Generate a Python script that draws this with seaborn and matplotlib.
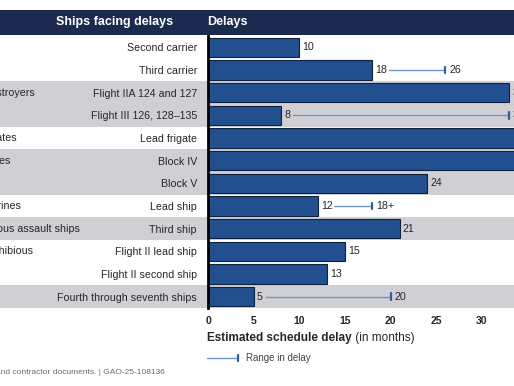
"""
Navy shipbuilding schedule delays - horizontal bar chart with range lines.
"""

import matplotlib
matplotlib.use("Agg")
import matplotlib.pyplot as plt
import matplotlib.transforms as mtransforms
from matplotlib.patches import Rectangle
from matplotlib.lines import Line2D
import pandas as pd
import seaborn as sns

# -- Data -------------------------------------------------------------------
ships = [
    "Second carrier", "Third carrier", "Flight IIA 124 and 127",
    "Flight III 126, 128\u2013135", "Lead frigate", "Block IV", "Block V",
    "Lead ship", "Third ship", "Flight II lead ship", "Flight II second ship",
    "Fourth through seventh ships",
]
delays = [10, 18, 33, 8, 36, 36, 24, 12, 21, 15, 13, 5]
range_high = [None, 26, None, 33, None, None, None, 18, None, None, None, 20]
range_labels = [None, "26", None, "33", None, None, None, "18+", None, None, None, "20"]
shaded = [False, False, True, True, False, True, True, False, True, False, False, True]

group_rows = [2, 4, 5, 7, 8, 9]
group_names = [
    "Arleigh Burke class destroyers", "Constellation class frigates",
    "Virginia class submarines", "Columbia class submarines",
    "America class amphibious assault ships", "San Antonio class amphibious",
]
x_ticks = [0, 5, 10, 15, 20, 25, 30]

# -- Style ------------------------------------------------------------------
COLORS = {
    "bar": "#22508f",
    "edge": "#0f2140",
    "header": "#1c2a4f",
    "band": "#d0cfd3",
    "range": "#6f97cb",
    "cap": "#2f5f9e",
    "text": "#262626",
    "note": "#6a6a6a",
}
W, H = 514, 386
GROUP_LABEL_END = [35, 17, 10, 21, 80, 33]   # pixel where visible group text ends

sns.set_theme(style="white")
plt.rcParams["font.family"] = ["Liberation Sans", "DejaVu Sans"]

fig = plt.figure(figsize=(W / 100, H / 100), dpi=100)
fig.patch.set_facecolor("white")

ax = fig.add_axes([208 / W, 78 / H, (W - 208) / W, 272 / H])
ax.patch.set_visible(False)

df = pd.DataFrame({"ship": ships, "delay": delays})
sns.barplot(data=df, x="delay", y="ship", orient="h", color=COLORS["bar"],
            edgecolor=COLORS["edge"], linewidth=0.8, width=0.84,
            saturation=1, ax=ax, zorder=2)

ax.set_xlim(0, (W - 208) / 9.133)
ax.set_ylim(len(ships) - 0.5, -0.5)

# shaded row bands across the whole figure width
band_trans = mtransforms.blended_transform_factory(fig.transFigure, ax.transData)
for i, s in enumerate(shaded):
    if s:
        ax.add_patch(Rectangle((0, i - 0.5), 1, 1, transform=band_trans,
                               facecolor=COLORS["band"], edgecolor="none",
                               zorder=0, clip_on=False))

# value labels and range lines
for i, (v, hi, lab) in enumerate(zip(delays, range_high, range_labels)):
    ax.text(v + 0.35, i, str(v), va="center", ha="left", fontsize=7.7,
            color=COLORS["text"], clip_on=True, zorder=3)
    if hi is not None:
        start = v + 0.9 + 0.45 * len(str(v))
        ax.plot([start, hi], [i, i], color=COLORS["range"], lw=1, zorder=3)
        ax.plot([hi, hi], [i - 0.14, i + 0.14], color=COLORS["cap"], lw=1.6,
                zorder=3, clip_on=False)
        ax.text(hi + 0.4, i, lab, va="center", ha="left", fontsize=7.7,
                color=COLORS["text"], clip_on=True, zorder=3)

# group names (cut off at the left edge as in the source)
for row, name, end in zip(group_rows, group_names, GROUP_LABEL_END):
    fig.text(end / W, row, name, transform=band_trans, fontsize=7.7,
             color=COLORS["text"], ha="right", va="center")

# axes styling
for side in ["top", "right", "bottom"]:
    ax.spines[side].set_visible(False)
ax.spines["left"].set_color("black")
ax.spines["left"].set_linewidth(2)
ax.spines["left"].set_zorder(4)
ax.set_xticks(x_ticks)
ax.set_xticklabels([str(t) for t in x_ticks], fontweight="bold", fontsize=7.5,
                   color=COLORS["text"])
ax.tick_params(axis="x", length=0, pad=6)
ax.tick_params(axis="y", length=0, pad=8, labelsize=7.7, labelcolor=COLORS["text"])
ax.set_xlabel("")
ax.set_ylabel("")
ax.grid(False)

# header band
fig.add_artist(Rectangle((0, (H - 35) / H), 1, 25 / H, transform=fig.transFigure,
                         facecolor=COLORS["header"], edgecolor="none"))
fig.text(115 / W, (H - 22.5) / H, "Ships facing delays", color="white",
         fontweight="bold", fontsize=9, ha="center", va="center")
fig.text(207 / W, (H - 22.5) / H, "Delays", color="white",
         fontweight="bold", fontsize=9, ha="left", va="center")

# x axis title: bold part + regular part
t1 = fig.text(207 / W, (H - 338) / H, "Estimated schedule delay", fontweight="bold",
              fontsize=8.5, color=COLORS["text"], ha="left", va="center")
ax.annotate(" (in months)", xy=(1, 0.5), xycoords=t1, fontsize=8.5,
            color=COLORS["text"], ha="left", va="center")

# legend for range line
ly = (H - 358) / H
fig.add_artist(Line2D([207 / W, 238 / W], [ly, ly], transform=fig.transFigure,
                      color=COLORS["range"], lw=1))
fig.add_artist(Line2D([238 / W, 238 / W], [ly - 3 / H, ly + 3 / H],
                      transform=fig.transFigure, color=COLORS["cap"], lw=1.6))
fig.text(246 / W, ly, "Range in delay", fontsize=7, color="#444444",
         ha="left", va="center")

# source note
fig.text(165 / W, (H - 373) / H,
         "Source: GAO analysis of Navy and contractor documents. | GAO-25-108136",
         fontsize=6.0, color=COLORS["note"], ha="right", va="center")

fig.savefig("out.png", dpi=100)
plt.close(fig)
